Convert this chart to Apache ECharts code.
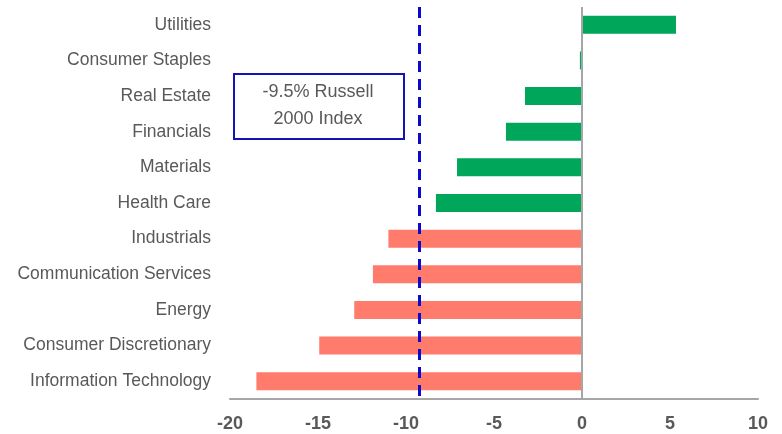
<!DOCTYPE html>
<html>
<head>
<meta charset="utf-8">
<script src="https://cdn.jsdelivr.net/npm/echarts@6/dist/echarts.min.js"></script>
<style>
  html, body { margin: 0; padding: 0; background: #fff; }
  #chart { width: 782px; height: 434px; }
</style>
</head>
<body>
<div id="chart"></div>
<script>
// sectors, top to bottom
var sectors = ['Utilities', 'Consumer Staples', 'Real Estate', 'Financials', 'Materials',
  'Health Care', 'Industrials', 'Communication Services', 'Energy',
  'Consumer Discretionary', 'Information Technology']
var returns = [5.34, -0.12, -3.24, -4.32, -7.10, -8.30, -11.0, -11.88, -12.94, -14.93, -18.5]
// true = beat the index (green), false = lagged (salmon)
var beatIndex = [true, true, true, true, true, true, false, false, false, false, false]
var russellLine = -9.25
var russellText = ['-9.5% Russell', '2000 Index']
var xTicks = { min: -20, max: 10, interval: 5 }

var green = '#00A65A'
var salmon = '#FF7B6C'
var grey = '#A6A6A6'
var textGrey = '#595959'

var myChart = echarts.init(document.getElementById('chart'))

myChart.setOption({
  animation: false,
  grid: { left: 230, right: 24, top: 7, bottom: 35 },
  xAxis: {
    type: 'value',
    min: xTicks.min,
    max: xTicks.max,
    interval: xTicks.interval,
    splitLine: { show: false },
    axisTick: { show: false },
    axisLine: { show: true, onZero: false, lineStyle: { color: grey, width: 2 } },
    axisLabel: {
      color: textGrey,
      fontSize: 18,
      fontWeight: 'bold',
      fontFamily: 'Liberation Sans',
      margin: 16
    }
  },
  yAxis: {
    type: 'category',
    inverse: true,
    data: sectors,
    axisTick: { show: false },
    axisLine: { show: false },
    axisLabel: {
      color: textGrey,
      fontSize: 17.5,
      fontFamily: 'Liberation Sans',
      margin: 19
    }
  },
  series: [
    {
      type: 'bar',
      barWidth: 18,
      data: returns.map(function (v, i) {
        return { value: v, itemStyle: { color: beatIndex[i] ? green : salmon } }
      }),
      markLine: {
        silent: true,
        symbol: 'none',
        label: { show: false },
        data: [
          { xAxis: 0, lineStyle: { color: grey, width: 2, type: 'solid' } },
          { xAxis: russellLine, lineStyle: { color: '#0A0ACC', width: 3, type: [11, 7] } }
        ]
      }
    }
  ],
  graphic: [
    {
      type: 'rect',
      left: 233,
      top: 73,
      shape: { width: 170, height: 65 },
      style: { fill: '#fff', stroke: '#1414B4', lineWidth: 2 },
      z: 100
    },
    {
      type: 'text',
      x: 318,
      y: 106,
      z: 101,
      style: {
        text: russellText.join('\n'),
        align: 'center',
        verticalAlign: 'middle',
        fill: textGrey,
        fontSize: 18,
        lineHeight: 27,
        fontFamily: 'Liberation Sans'
      }
    }
  ]
})
</script>
</body>
</html>
